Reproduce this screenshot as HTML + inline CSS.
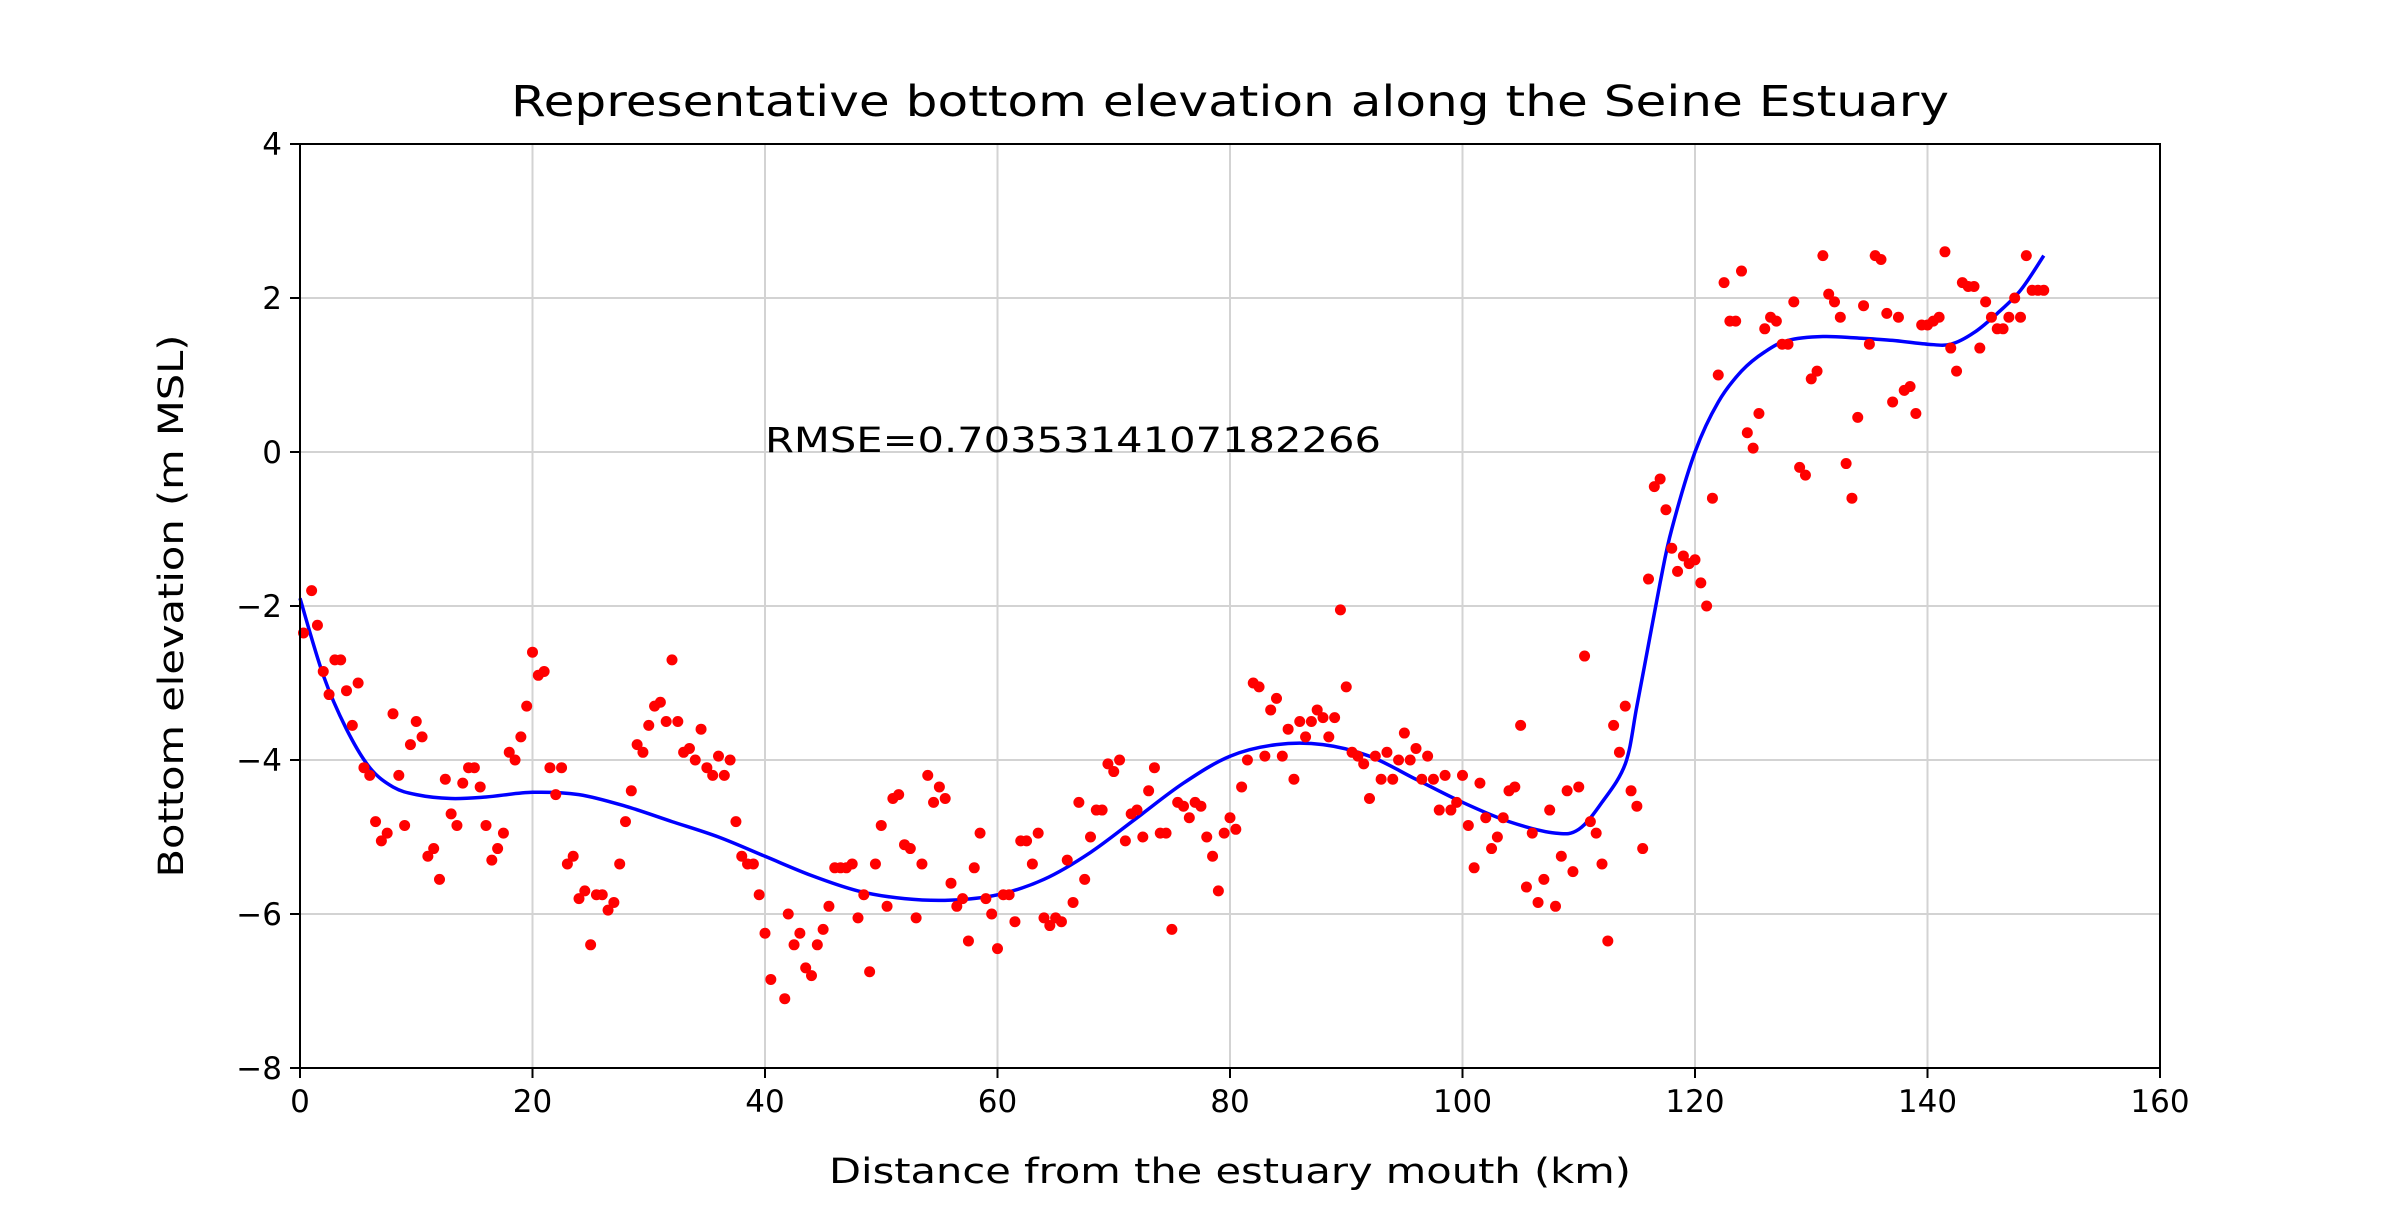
<!DOCTYPE html>
<html><head><meta charset="utf-8"><style>
html,body{margin:0;padding:0;background:#fff;}
svg text{font-family:"DejaVu Sans","Liberation Sans",sans-serif;fill:#000;}
</style></head><body>
<svg id="chart" width="2400" height="1200" viewBox="0 0 2400 1200" xmlns="http://www.w3.org/2000/svg">
<rect width="2400" height="1200" fill="#fff"/>
<g id="grid"></g>
<g id="curve"></g>
<g id="pts"></g>
<rect x="300" y="144" width="1860" height="924" fill="none" stroke="#000" stroke-width="2"/>
<g id="ticks"></g>
<text x="1230" y="116" text-anchor="middle" font-size="43" textLength="1438" lengthAdjust="spacingAndGlyphs">Representative bottom elevation along the Seine Estuary</text>
<text x="1230" y="1183" text-anchor="middle" font-size="35" textLength="802" lengthAdjust="spacingAndGlyphs">Distance from the estuary mouth (km)</text>
<text transform="translate(183,606) rotate(-90)" text-anchor="middle" font-size="35" textLength="543" lengthAdjust="spacingAndGlyphs">Bottom elevation (m MSL)</text>
<text x="765" y="452" font-size="35" textLength="616" lengthAdjust="spacingAndGlyphs">RMSE=0.7035314107182266</text>
</svg>
<script>
const xTicks=[0,20,40,60,80,100,120,140,160];
const yTicks=[-8,-6,-4,-2,0,2,4];
const obsX=[0.3,1,1.5,2,2.5,3,3.5,4,4.5,5,5.5,6,6.5,7,7.5,8,8.5,9,9.5,10,10.5,11,11.5,12,12.5,13,13.5,14,14.5,15,15.5,16,16.5,17,17.5,18,18.5,19,19.5,20,20.5,21,21.5,22,22.5,23,23.5,24,24.5,25,25.5,26,26.5,27,27.5,28,28.5,29,29.5,30,30.5,31,31.5,32,32.5,33,33.5,34,34.5,35,35.5,36,36.5,37,37.5,38,38.5,39,39.5,40,40.5,41.7,42,42.5,43,43.5,44,44.5,45,45.5,46,46.5,47,47.5,48,48.5,49,49.5,50,50.5,51,51.5,52,52.5,53,53.5,54,54.5,55,55.5,56,56.5,57,57.5,58,58.5,59,59.5,60,60.5,61,61.5,62,62.5,63,63.5,64,64.5,65,65.5,66,66.5,67,67.5,68,68.5,69,69.5,70,70.5,71,71.5,72,72.5,73,73.5,74,74.5,75,75.5,76,76.5,77,77.5,78,78.5,79,79.5,80,80.5,81,81.5,82,82.5,83,83.5,84,84.5,85,85.5,86,86.5,87,87.5,88,88.5,89,89.5,90,90.5,91,91.5,92,92.5,93,93.5,94,94.5,95,95.5,96,96.5,97,97.5,98,98.5,99,99.5,100,100.5,101,101.5,102,102.5,103,103.5,104,104.5,105,105.5,106,106.5,107,107.5,108,108.5,109,109.5,110,110.5,111,111.5,112,112.5,113,113.5,114,114.5,115,115.5,116,116.5,117,117.5,118,118.5,119,119.5,120,120.5,121,121.5,122,122.5,123,123.5,124,124.5,125,125.5,126,126.5,127,127.5,128,128.5,129,129.5,130,130.5,131,131.5,132,132.5,133,133.5,134,134.5,135,135.5,136,136.5,137,137.5,138,138.5,139,139.5,140,140.5,141,141.5,142,142.5,143,143.5,144,144.5,145,145.5,146,146.5,147,147.5,148,148.5,149,149.5,150];
const obsY=[-2.35,-1.8,-2.25,-2.85,-3.15,-2.7,-2.7,-3.1,-3.55,-3.0,-4.1,-4.2,-4.8,-5.05,-4.95,-3.4,-4.2,-4.85,-3.8,-3.5,-3.7,-5.25,-5.15,-5.55,-4.25,-4.7,-4.85,-4.3,-4.1,-4.1,-4.35,-4.85,-5.3,-5.15,-4.95,-3.9,-4.0,-3.7,-3.3,-2.6,-2.9,-2.85,-4.1,-4.45,-4.1,-5.35,-5.25,-5.8,-5.7,-6.4,-5.75,-5.75,-5.95,-5.85,-5.35,-4.8,-4.4,-3.8,-3.9,-3.55,-3.3,-3.25,-3.5,-2.7,-3.5,-3.9,-3.85,-4.0,-3.6,-4.1,-4.2,-3.95,-4.2,-4.0,-4.8,-5.25,-5.35,-5.35,-5.75,-6.25,-6.85,-7.1,-6.0,-6.4,-6.25,-6.7,-6.8,-6.4,-6.2,-5.9,-5.4,-5.4,-5.4,-5.35,-6.05,-5.75,-6.75,-5.35,-4.85,-5.9,-4.5,-4.45,-5.1,-5.15,-6.05,-5.35,-4.2,-4.55,-4.35,-4.5,-5.6,-5.9,-5.8,-6.35,-5.4,-4.95,-5.8,-6.0,-6.45,-5.75,-5.75,-6.1,-5.05,-5.05,-5.35,-4.95,-6.05,-6.15,-6.05,-6.1,-5.3,-5.85,-4.55,-5.55,-5.0,-4.65,-4.65,-4.05,-4.15,-4.0,-5.05,-4.7,-4.65,-5.0,-4.4,-4.1,-4.95,-4.95,-6.2,-4.55,-4.6,-4.75,-4.55,-4.6,-5.0,-5.25,-5.7,-4.95,-4.75,-4.9,-4.35,-4.0,-3.0,-3.05,-3.95,-3.35,-3.2,-3.95,-3.6,-4.25,-3.5,-3.7,-3.5,-3.35,-3.45,-3.7,-3.45,-2.05,-3.05,-3.9,-3.95,-4.05,-4.5,-3.95,-4.25,-3.9,-4.25,-4.0,-3.65,-4.0,-3.85,-4.25,-3.95,-4.25,-4.65,-4.2,-4.65,-4.55,-4.2,-4.85,-5.4,-4.3,-4.75,-5.15,-5.0,-4.75,-4.4,-4.35,-3.55,-5.65,-4.95,-5.85,-5.55,-4.65,-5.9,-5.25,-4.4,-5.45,-4.35,-2.65,-4.8,-4.95,-5.35,-6.35,-3.55,-3.9,-3.3,-4.4,-4.6,-5.15,-1.65,-0.45,-0.35,-0.75,-1.25,-1.55,-1.35,-1.45,-1.4,-1.7,-2.0,-0.6,1.0,2.2,1.7,1.7,2.35,0.25,0.05,0.5,1.6,1.75,1.7,1.4,1.4,1.95,-0.2,-0.3,0.95,1.05,2.55,2.05,1.95,1.75,-0.15,-0.6,0.45,1.9,1.4,2.55,2.5,1.8,0.65,1.75,0.8,0.85,0.5,1.65,1.65,1.7,1.75,2.6,1.35,1.05,2.2,2.15,2.15,1.35,1.95,1.75,1.6,1.6,1.75,2.0,1.75,2.55,2.1,2.1,2.1];
const fitX=[0,2,4,6,8,10,13,16,20,24,28,32,36,40,44,48,52,56,60,64,68,72,76,80,84,88,92,96,100,104,108,110,112,114,115,116,117,118,120,122,124,126,128,131,134,137,140,142,144,146,148,150];
const fitY=[-1.9,-2.9,-3.6,-4.1,-4.35,-4.45,-4.5,-4.48,-4.42,-4.45,-4.6,-4.8,-5.0,-5.25,-5.5,-5.7,-5.8,-5.82,-5.75,-5.55,-5.2,-4.75,-4.3,-3.95,-3.8,-3.8,-3.95,-4.25,-4.55,-4.8,-4.95,-4.9,-4.55,-4.05,-3.3,-2.5,-1.7,-1.0,0.0,0.65,1.05,1.3,1.45,1.5,1.48,1.45,1.4,1.4,1.55,1.8,2.1,2.55];

const L=300,R=2160,T=144,B=1068;
const sx=v=>L+(v-0)/(160-0)*(R-L);
const sy=v=>B-(v-(-8))/(4-(-8))*(B-T);
const NS="http://www.w3.org/2000/svg";
function mk(tag,attrs,parent){const e=document.createElementNS(NS,tag);for(const k in attrs)e.setAttribute(k,attrs[k]);parent.appendChild(e);return e;}
const grid=document.getElementById('grid'),ticks=document.getElementById('ticks');
xTicks.forEach(t=>{
  const g=mk('line',{x1:sx(t),x2:sx(t),y1:T,y2:B,stroke:'#d3d3d3','stroke-width':2},grid);
  
  
  const tk=mk('line',{x1:sx(t),x2:sx(t),y1:B,y2:B+10,stroke:'#000','stroke-width':2},ticks);
  
  
  const lb=mk('text',{x:sx(t),y:B+44,'text-anchor':'middle','font-size':31},ticks);
  lb.textContent=String(t);
  
  
});
yTicks.forEach(t=>{
  const g=mk('line',{x1:L,x2:R,y1:sy(t),y2:sy(t),stroke:'#d3d3d3','stroke-width':2},grid);
  
  
  const tk=mk('line',{x1:L-10,x2:L,y1:sy(t),y2:sy(t),stroke:'#000','stroke-width':2},ticks);
  
  
  const lb=mk('text',{x:L-18,y:sy(t)+11,'text-anchor':'end','font-size':31},ticks);
  lb.textContent=(t<0?'\u2212':'')+Math.abs(t);
  
  
});
const P=fitX.map((x,i)=>[sx(x),sy(fitY[i])]);
let d='M'+P[0][0].toFixed(1)+','+P[0][1].toFixed(1);
for(let i=0;i<P.length-1;i++){
  const p0=P[Math.max(0,i-1)],p1=P[i],p2=P[i+1],p3=P[Math.min(P.length-1,i+2)];
  const c1x=p1[0]+(p2[0]-p0[0])/6,c1y=p1[1]+(p2[1]-p0[1])/6;
  const c2x=p2[0]-(p3[0]-p1[0])/6,c2y=p2[1]-(p3[1]-p1[1])/6;
  d+='C'+c1x.toFixed(1)+','+c1y.toFixed(1)+' '+c2x.toFixed(1)+','+c2y.toFixed(1)+' '+p2[0].toFixed(1)+','+p2[1].toFixed(1);
}
const path=mk('path',{d:d,fill:'none',stroke:'#0000ff','stroke-width':3.5,'stroke-linejoin':'round'},document.getElementById('curve'));


const pts=document.getElementById('pts');
obsX.forEach((x,i)=>{
  const c=mk('circle',{cx:sx(x),cy:sy(obsY[i]),r:5.5,fill:'#ff0000'},pts);
  
  
});
</script>
</body></html>
